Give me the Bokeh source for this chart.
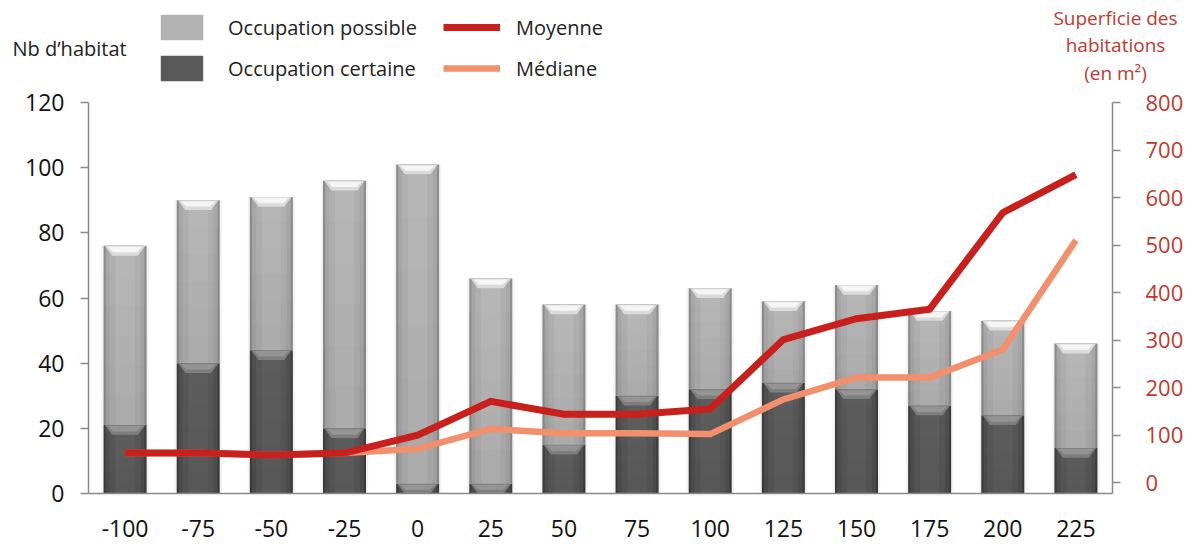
from bokeh.plotting import figure
from bokeh.models import Range1d, LinearAxis, FixedTicker, Legend, LegendItem, Label, ColumnDataSource
from bokeh.embed import file_html
from bokeh.resources import INLINE

# ---------------- data ----------------
periods = [-100, -75, -50, -25, 0, 25, 50, 75, 100, 125, 150, 175, 200, 225]
occupation_certaine = [21, 40, 44, 20, 3, 3, 15, 30, 32, 34, 32, 27, 24, 14]
occupation_possible = [55, 50, 47, 76, 98, 63, 43, 28, 31, 25, 32, 29, 29, 32]
superficie_moyenne = [62, 62, 58, 62, 100, 171, 144, 144, 155, 301, 345, 365, 568, 648]
superficie_mediane = [62, 62, 58, 62, 71, 113, 104, 104, 102, 175, 221, 221, 280, 510]
left_ticks = [0, 20, 40, 60, 80, 100, 120]
right_ticks = [0, 100, 200, 300, 400, 500, 600, 700, 800]
x_labels = {v: str(v) for v in periods}

FONT = "Open Sans"
RED_TXT = "#c0392f"
MOY_COL = "#c8201d"
MED_COL = "#f28f6d"
POSS_COLS = ["#8e8e8e", "#a9a9a9", "#b2b2b2", "#b9b9b9"]
CERT_COLS = ["#3e3e3e", "#505050", "#595959", "#5f5f5f"]

# ---------------- geometry (pixels of the canvas) ----------------
CW, CH = 1192, 548
FL, FR, FT, FB = 88, 1112, 102, 493          # plot area edges
X0, X1 = -112.5, 237.5                        # data span of the plot area
Y0, Y1 = 0, 120
R0, R1 = -23, 800
sx = (FR - FL) / (X1 - X0)
sy = (FB - FT) / (Y1 - Y0)
sr = (FB - FT) / (R1 - R0)

p = figure(width=CW, height=CH, output_backend="svg", toolbar_location=None,
           x_range=Range1d(X0 - FL / sx, X1 + (CW - FR) / sx),
           y_range=Range1d(Y0 - (CH - FB) / sy, Y1 + FT / sy),
           x_axis_location=None, y_axis_location=None,
           min_border=0, min_border_left=0, min_border_right=0, min_border_top=0, min_border_bottom=0)
p.extra_y_ranges = {"surf": Range1d(R0 - (CH - FB) / sr, R1 + FT / sr)}
p.outline_line_color = None
p.grid.visible = False

W = 14.7  # bar width in data units
top_tot = [c + q for c, q in zip(occupation_certaine, occupation_possible)]
zeros = [0] * len(periods)
src = ColumnDataSource(dict(x=periods, zero=zeros, cert=occupation_certaine, tot=top_tot))

# soft shadow
p.vbar(x="x", width=W * 1.1, bottom="zero", top="tot", source=src, fill_color="#000000",
       fill_alpha=0.05, line_color=None)


def segment(bot, top, cols):
    rs = []
    for f, c in zip([1.0, 0.9, 0.72, 0.45], cols):
        rs.append(p.vbar(x="x", width=W * f, bottom=bot, top=top, source=src, fill_color=c, line_color=None))
    return rs


cert_r = segment("zero", "cert", CERT_COLS)
poss_r = segment("cert", "tot", POSS_COLS)

# vertical shading (darker toward the bottom of each segment)
n = 6
for k in range(n):
    for hi, lo in [(occupation_certaine, zeros), (top_tot, occupation_certaine)]:
        b = [l + (u - l) * k / n for u, l in zip(hi, lo)]
        t = [l + (u - l) * (k + 1) / n for u, l in zip(hi, lo)]
        p.vbar(x=periods, width=W, bottom=b, top=t, fill_color="#000000",
               fill_alpha=0.07 * (n - k) / n, line_color=None)

# top bevels
H = 3.0


def bevel(tops, col_out, col_in):
    xs, ys, xs2, ys2 = [], [], [], []
    for x, t in zip(periods, tops):
        xs.append([x - 0.47 * W, x + 0.47 * W, x + 0.3 * W, x - 0.3 * W])
        ys.append([t, t, t - H, t - H])
        xs2.append([x - 0.4 * W, x + 0.4 * W, x + 0.28 * W, x - 0.28 * W])
        ys2.append([t - 0.3, t - 0.3, t - H * 0.65, t - H * 0.65])
    p.patches(xs, ys, fill_color=col_out, line_color=None)
    p.patches(xs2, ys2, fill_color=col_in, line_color=None)


bevel(occupation_certaine, "#7e7e7e", "#949494")
bevel(top_tot, "#dadada", "#f5f5f5")

# lines
med_r = p.line(periods, superficie_mediane, y_range_name="surf", line_width=6.5,
               line_color=MED_COL, line_join="miter")
moy_r = p.line(periods, superficie_moyenne, y_range_name="surf", line_width=7,
               line_color=MOY_COL, line_join="miter")


# ---------------- axes ----------------
def style(ax, color="#111111", size="23px"):
    ax.axis_line_color = "#8a8a8a"
    ax.axis_line_width = 1.5
    ax.major_tick_line_color = "#8a8a8a"
    ax.major_tick_line_width = 1.5
    ax.major_tick_out = 8
    ax.major_tick_in = 0
    ax.minor_tick_line_color = None
    ax.major_label_text_font = FONT
    ax.major_label_text_font_size = size
    ax.major_label_text_color = color


ax_l = LinearAxis(ticker=FixedTicker(ticks=left_ticks), fixed_location=X0, bounds=(Y0, Y1))
style(ax_l)
ax_l.major_label_standoff = 16
p.add_layout(ax_l, "left")

ax_b = LinearAxis(ticker=FixedTicker(ticks=periods), fixed_location=Y0, bounds=(X0, X1),
                  major_label_overrides=x_labels)
style(ax_b)
ax_b.major_tick_line_color = None
ax_b.major_label_standoff = 18
p.add_layout(ax_b, "below")

ax_r = LinearAxis(y_range_name="surf", ticker=FixedTicker(ticks=right_ticks), fixed_location=X1,
                  bounds=(R0, R1))
style(ax_r, RED_TXT, "22px")
ax_r.major_label_standoff = 25
p.add_layout(ax_r, "right")

# ---------------- legend and titles ----------------
leg1 = Legend(items=[LegendItem(label="Occupation possible", renderers=[poss_r[2]]),
                     LegendItem(label="Occupation certaine", renderers=[cert_r[2]])],
              location=(155, CH - 84), glyph_width=53, glyph_height=32, spacing=9, padding=0, margin=0,
              border_line_color=None, background_fill_alpha=0, label_standoff=20,
              label_text_font=FONT, label_text_font_size="20px", label_text_color="#222222")
leg2 = Legend(items=[LegendItem(label="Moyenne", renderers=[moy_r]),
                     LegendItem(label="Médiane", renderers=[med_r])],
              location=(443, CH - 84), glyph_width=57, glyph_height=32, spacing=9, padding=0, margin=0,
              border_line_color=None, background_fill_alpha=0, label_standoff=16,
              label_text_font=FONT, label_text_font_size="20px", label_text_color="#222222")
p.add_layout(leg1)
p.add_layout(leg2)

p.add_layout(Label(x=12, y=CH - 48, x_units="screen", y_units="screen", text="Nb d’habitat",
                   text_font=FONT, text_font_size="20px", text_color="#222222", text_baseline="middle"))
for txt, yy in [("Superficie des", 17), ("habitations", 44), ("(en m²)", 72)]:
    p.add_layout(Label(x=1115, y=CH - yy, x_units="screen", y_units="screen", text=txt,
                       text_align="center", text_font=FONT, text_font_size="19px",
                       text_color=RED_TXT, text_baseline="middle"))

open("out.html", "w").write(file_html(p, INLINE))
